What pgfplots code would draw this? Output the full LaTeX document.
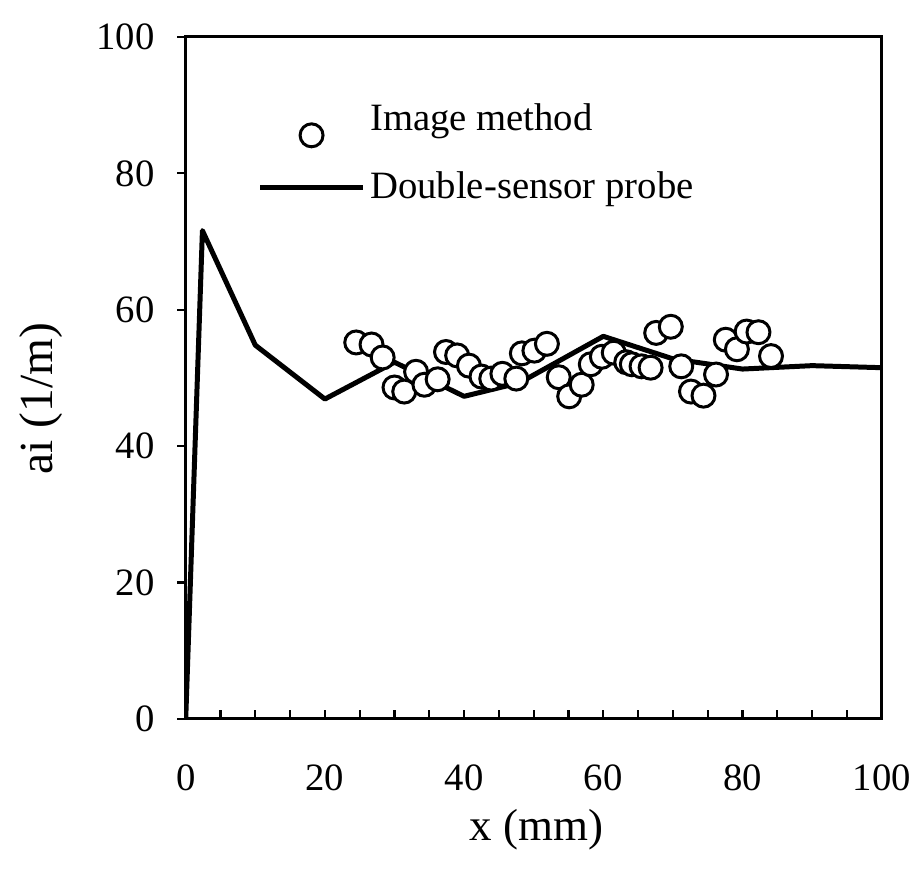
\documentclass[border=0pt]{standalone}
\usepackage{pgfplots}
\pgfplotsset{compat=1.18}
\usepackage{fontspec}
\setmainfont{Liberation Serif}
\pgfplotsset{
 longline/.style={legend image code/.code={\draw[##1] (0pt,0pt) -- (41pt,0pt);}},
 markonly/.style={legend image code/.code={\draw[##1] plot coordinates {(20.5pt,-6.5pt)};}},
}

\begin{document}
\begin{tikzpicture}
\begin{axis}[
 name=ax,
 scale only axis,
 width=278.8pt, height=273.2pt,
 xmin=0, xmax=100, ymin=0, ymax=100,
 xtick={0,20,...,100}, ytick={0,20,...,100},
 minor x tick num=3,
 xtick pos=bottom, ytick pos=left,
 tick align=inside,
 major tick length=3.4pt, minor tick length=3.4pt,
 ytick style={xshift=-3.4pt},
 axis line style={line width=1.2pt},
 every tick/.style={black, line width=0.9pt},
 tick label style={font=\fontsize{15.5}{18}\selectfont},
 /pgf/number format/assume math mode=true,
 xticklabel style={yshift=-15pt},
 yticklabel style={xshift=-9pt},
 xlabel={x (mm)}, ylabel={ai (1/m)},
 xlabel style={font=\fontsize{18}{22}\selectfont, at={(axis description cs:0.504,-0.163)}, anchor=center},
 ylabel style={font=\fontsize{19}{23}\selectfont, at={(axis description cs:-0.208,0.47)}, anchor=center},
 reverse legend,
 legend cell align=left,
 legend style={at={(axis cs:10.3,91)}, anchor=north west, draw=none, fill=none, inner sep=0pt,
   font=\fontsize{15.5}{18}\selectfont, row sep=8pt,
   /tikz/every even column/.append style={column sep=2pt}},
]
\addplot[black, line width=2pt, line join=round, longline]
 coordinates {(0,0) (2.4,71.6) (10,54.8) (20,46.9) (30,52.3) (40,47.3) (48,49.3) (60,56.1) (70,52.8) (80,51.3) (90,51.8) (100,51.5)};
\addlegendentry{Double-sensor probe}
\addplot[only marks, mark=*, mark size=4.6pt, mark options={draw=black, fill=white, line width=1.2pt}, markonly]
 coordinates {
 (24.5,55.2) (26.7,54.9) (28.3,53.0) (30.0,48.6) (31.4,48.0) (33.1,50.9) (34.3,49.0)
 (36.2,49.8) (37.4,53.8) (39.0,53.3) (40.7,51.8) (42.5,50.2) (43.9,49.9) (45.5,50.6)
 (47.5,49.9) (48.3,53.6) (50.1,54.0) (51.9,55.0) (53.6,50.1) (55.1,47.3) (56.9,49.0)
 (58.2,52.0) (59.8,53.1) (61.5,53.7) (63.3,52.3) (64.1,52.0) (65.5,51.7) (66.8,51.5)
 (67.6,56.6) (69.7,57.5) (71.2,51.7) (72.6,48.0) (74.4,47.4) (76.2,50.5) (77.6,55.6)
 (79.2,54.2) (80.6,56.8) (82.3,56.7) (84.1,53.2)};
\addlegendentry{Image method}
\end{axis}
\path ([shift={(-74.4pt,-61.6pt)}]ax.south west) rectangle ([shift={(14.4pt,14.8pt)}]ax.north east);
\end{tikzpicture}
\end{document}
